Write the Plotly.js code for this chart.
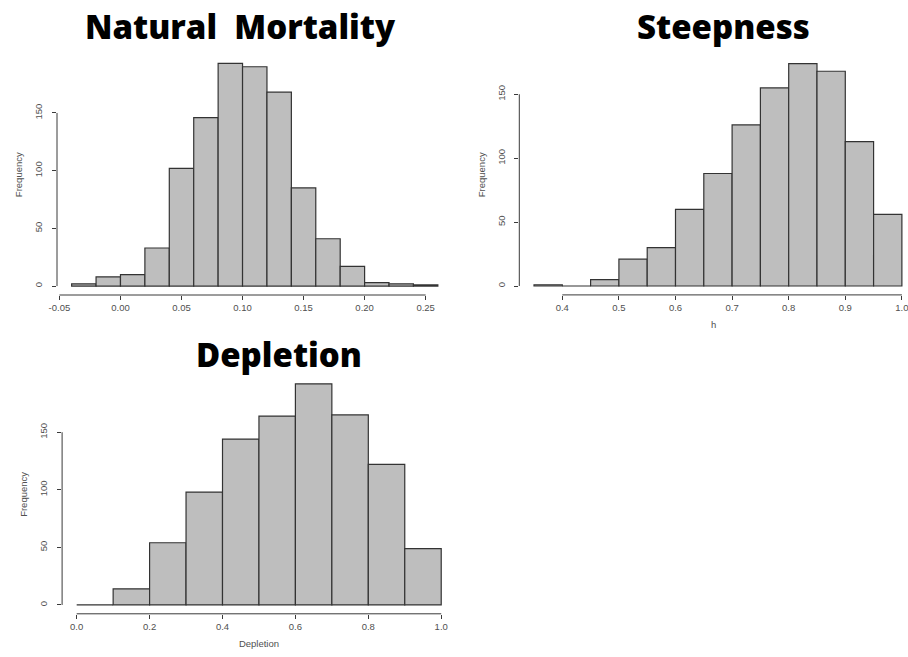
<!DOCTYPE html>
<html>
<head>
<meta charset="utf-8">
<script src="https://cdn.plot.ly/plotly-3.0.1.min.js"></script>
<style>
  html, body { margin: 0; padding: 0; background: #ffffff; }
  #chart { width: 908px; height: 657px; }
</style>
</head>
<body>
<div id="chart"></div>
<script>
const W = 908, H = 657;

// Natural mortality (M) histogram
const mortBreaks = [-0.04, -0.02, 0.00, 0.02, 0.04, 0.06, 0.08, 0.10, 0.12, 0.14, 0.16, 0.18, 0.20, 0.22, 0.24, 0.26];
const mortCounts = [2, 8, 10, 33, 102, 146, 193, 190, 168, 85, 41, 17, 3, 2, 1];
const mortXTicks = [-0.05, 0.00, 0.05, 0.10, 0.15, 0.20, 0.25];
const mortXLabels = ['-0.05', '0.00', '0.05', '0.10', '0.15', '0.20', '0.25'];

// Steepness (h) histogram
const steepBreaks = [0.35, 0.40, 0.45, 0.50, 0.55, 0.60, 0.65, 0.70, 0.75, 0.80, 0.85, 0.90, 0.95, 1.00];
const steepCounts = [1, 0, 5, 21, 30, 60, 88, 126, 155, 174, 168, 113, 56];
const steepXTicks = [0.4, 0.5, 0.6, 0.7, 0.8, 0.9, 1.0];
const steepXLabels = ['0.4', '0.5', '0.6', '0.7', '0.8', '0.9', '1.0'];

// Depletion histogram
const deplBreaks = [0.0, 0.1, 0.2, 0.3, 0.4, 0.5, 0.6, 0.7, 0.8, 0.9, 1.0];
const deplCounts = [0, 14, 54, 98, 144, 164, 192, 165, 122, 49];
const deplXTicks = [0.0, 0.2, 0.4, 0.6, 0.8, 1.0];
const deplXLabels = ['0.0', '0.2', '0.4', '0.6', '0.8', '1.0'];

// Frequency axis, shared by all panels
const freqTicks = [0, 50, 100, 150];
const freqLabels = ['0', '50', '100', '150'];

// Panel titles and axis labels
const panelTitles = ['Natural&nbsp;&nbsp;Mortality', 'Steepness', 'Depletion'];
const xTitles = ['', 'h', 'Depletion'];
const yTitle = 'Frequency';

// Plot regions in pixels, with the axis ranges that R's hist() gives
const panels = [
  { breaks: mortBreaks, counts: mortCounts, xt: mortXTicks, xl: mortXLabels,
    box: { l: 57, r: 452.5, t: 54.4, b: 295 }, xr: [-0.052, 0.272], yr: [-7.72, 200.72],
    title: { x: 240, y: 26 } },
  { breaks: steepBreaks, counts: steepCounts, xt: steepXTicks, xl: steepXLabels,
    box: { l: 519.3, r: 908, t: 54.7, b: 294.9 }, xr: [0.324, 1.0108], yr: [-6.96, 180.96],
    title: { x: 723, y: 26 } },
  { breaks: deplBreaks, counts: deplCounts, xt: deplXTicks, xl: deplXLabels,
    box: { l: 62.1, r: 455.8, t: 375, b: 613.8 }, xr: [-0.04, 1.04], yr: [-7.68, 199.68],
    title: { x: 278.5, y: 354 } }
];

const tickFont = { family: 'Liberation Sans, Arial, sans-serif', size: 9.5, color: '#505050' };
const axisColor = '#3a3a3a';

const traces = [];
const layout = {
  width: W, height: H,
  margin: { l: 0, r: 0, t: 0, b: 0 },
  paper_bgcolor: '#ffffff', plot_bgcolor: '#ffffff',
  showlegend: false,
  shapes: [], annotations: []
};

panels.forEach((p, i) => {
  const n = i + 1;
  const xa = n === 1 ? 'x' : 'x' + n;
  const ya = n === 1 ? 'y' : 'y' + n;
  const xKey = n === 1 ? 'xaxis' : 'xaxis' + n;
  const yKey = n === 1 ? 'yaxis' : 'yaxis' + n;

  const centers = p.counts.map((_, k) => (p.breaks[k] + p.breaks[k + 1]) / 2);
  const widths = p.counts.map((_, k) => p.breaks[k + 1] - p.breaks[k]);

  traces.push({
    type: 'bar', x: centers, y: p.counts, width: widths,
    xaxis: xa, yaxis: ya,
    marker: { color: '#bebebe', line: { color: '#333333', width: 1.2 } },
    hoverinfo: 'x+y'
  });

  layout[xKey] = {
    domain: [p.box.l / W, p.box.r / W],
    anchor: ya, range: p.xr, fixedrange: true,
    showgrid: false, zeroline: false, showline: false,
    tickmode: 'array', tickvals: p.xt, ticktext: p.xl,
    ticks: 'outside', ticklen: 4, tickwidth: 1, tickcolor: axisColor,
    ticklabelstandoff: 0, ticklabeloverflow: 'allow',
    tickfont: tickFont,
    title: { text: xTitles[i], font: tickFont, standoff: 9 }
  };
  layout[yKey] = {
    domain: [1 - p.box.b / H, 1 - p.box.t / H],
    anchor: xa, range: p.yr, fixedrange: true,
    showgrid: false, zeroline: false, showline: false,
    tickmode: 'array', tickvals: freqTicks, ticktext: freqLabels,
    ticks: 'outside', ticklen: 4, tickwidth: 1, tickcolor: axisColor,
    tickangle: -90, ticklabelstandoff: 6,
    tickfont: tickFont,
    title: { text: yTitle, font: tickFont, standoff: 8 }
  };

  // R-style axis lines running from first to last tick
  layout.shapes.push({
    type: 'line', xref: xa, yref: ya + ' domain',
    x0: p.xt[0], x1: p.xt[p.xt.length - 1], y0: 0, y1: 0,
    line: { color: axisColor, width: 1 }
  });
  layout.shapes.push({
    type: 'line', xref: xa + ' domain', yref: ya,
    x0: 0, x1: 0, y0: freqTicks[0], y1: freqTicks[freqTicks.length - 1],
    line: { color: axisColor, width: 1 }
  });

  layout.annotations.push({
    text: panelTitles[i], showarrow: false,
    xref: 'paper', yref: 'paper',
    x: p.title.x / W, y: 1 - p.title.y / H,
    xanchor: 'center', yanchor: 'middle',
    font: { family: 'Open Sans, Lato, sans-serif', size: 33, weight: 800, color: '#000000' }
  });
});

Plotly.newPlot('chart', traces, layout, { displayModeBar: false, staticPlot: true });
</script>
</body>
</html>
